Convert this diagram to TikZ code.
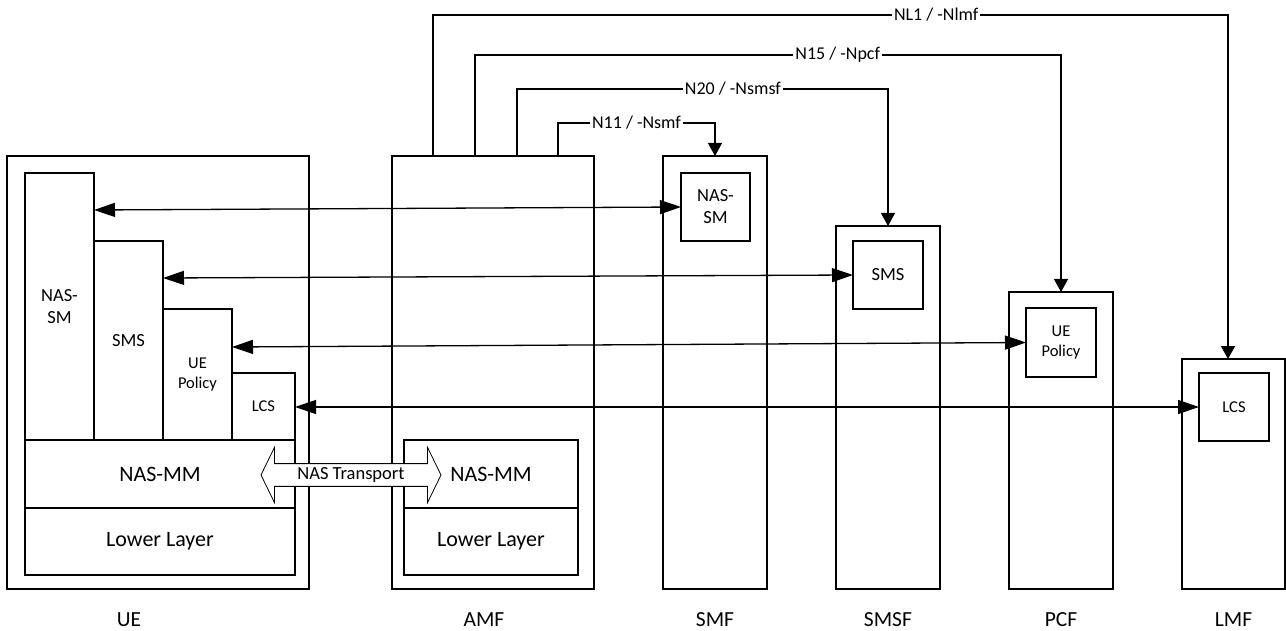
\documentclass[tikz,border=0pt]{standalone}
\usepackage{fontspec}
\setmainfont{Carlito}
\usetikzlibrary{arrows.meta,shapes.arrows,calc}
\begin{document}
\begin{tikzpicture}[x=1pt,y=-1pt,
 box/.style={draw, line width=1.3pt, inner sep=0pt, outer sep=0pt, anchor=north west, align=center},
 fbig/.style={font=\fontsize{22}{26}\selectfont},
 fmid/.style={font=\fontsize{18.5}{22}\selectfont},
 fsml/.style={font=\fontsize{16.5}{20}\selectfont},
 biarrow/.style={line width=1.3pt, {Triangle[length=21pt,width=14pt]}-{Triangle[length=21pt,width=14pt]}},
 conn/.style={line width=1.3pt, -{Triangle[length=13pt,width=14pt]}},
 lbl/.style={fill=white, inner sep=2pt, font=\fontsize{18}{21}\selectfont},
 ttl/.style={font=\fontsize{21.5}{25}\selectfont}
]
\useasboundingbox (0,0) rectangle (1286,631);

% UE
\node[box, minimum width=302pt, minimum height=433pt] (ue) at (7,156) {};
\node[box, fmid, minimum width=69pt, minimum height=267pt] (ueNassm) at (25,173) {NAS-\\SM};
\node[box, fmid, minimum width=69pt, minimum height=199pt] (ueSms) at (94,241) {SMS};
\node[box, fsml, minimum width=69pt, minimum height=131pt] (uePol) at (163,309) {UE\\Policy};
\node[box, fsml, minimum width=63pt, minimum height=67pt] (ueLcs) at (232,373) {LCS};
\node[box, fbig, minimum width=270pt, minimum height=68pt] (ueMm) at (25,440) {NAS-MM};
\node[box, fbig, minimum width=270pt, minimum height=67pt] (ueLow) at (25,508) {Lower Layer};

% AMF
\node[box, minimum width=202pt, minimum height=433pt] (amf) at (392,156) {};
\node[box, fbig, minimum width=174pt, minimum height=68pt] (amfMm) at (404,440) {NAS-MM};
\node[box, fbig, minimum width=174pt, minimum height=67pt] (amfLow) at (404,508) {Lower Layer};

% SMF
\node[box, minimum width=104pt, minimum height=433pt] (smf) at (663,156) {};
\node[box, fmid, minimum width=69pt, minimum height=68pt] (smfNassm) at (681,173) {NAS-\\SM};

% SMSF
\node[box, minimum width=104pt, minimum height=363pt] (smsf) at (836,226) {};
\node[box, fmid, minimum width=70pt, minimum height=68pt] (smsfSms) at (853,241) {SMS};

% PCF
\node[box, minimum width=104pt, minimum height=297pt] (pcf) at (1009,292) {};
\node[box, fsml, minimum width=70pt, minimum height=69pt] (pcfPol) at (1026,308) {UE\\Policy};

% LMF
\node[box, minimum width=103pt, minimum height=230pt] (lmf) at (1182,359) {};
\node[box, fsml, minimum width=70pt, minimum height=68pt] (lmfLcs) at (1199,373) {LCS};

% titles
\node[ttl] (tUe) at (129,620) {UE};
\node[ttl] (tAmf) at (484,620) {AMF};
\node[ttl] (tSmf) at (smf.south |- 0,620) {SMF};
\node[ttl] (tSmsf) at (smsf.south |- 0,620) {SMSF};
\node[ttl] (tPcf) at (pcf.south |- 0,620) {PCF};
\node[ttl] (tLmf) at (lmf.south |- 0,620) {LMF};

% peer arrows
\draw[biarrow] (ueNassm.east |- 0,210) -- (smfNassm.west);
\draw[biarrow] (ueSms.east |- 0,278) -- (smsfSms.west);
\draw[biarrow] (uePol.east |- 0,347) -- (pcfPol.west);
\draw[biarrow] (ueLcs.east |- 0,407) -- (lmfLcs.west);

% service interfaces
\coordinate (a11) at ($(amf.north west)+(166,0)$);
\coordinate (a20) at ($(amf.north west)+(125,0)$);
\coordinate (a15) at ($(amf.north west)+(83,0)$);
\coordinate (aL1) at ($(amf.north west)+(41,0)$);
\coordinate (lmfIn) at ($(lmf.north west)+(46,0)$);
\draw[conn] (a11) -- (a11 |- 0,123) -- node[lbl]{N11 / -Nsmf} (smf.north |- 0,123) -- (smf.north);
\draw[conn] (a20) -- (a20 |- 0,89) -- node[lbl, pos=0.582]{N20 / -Nsmsf} (smsf.north |- 0,89) -- (smsf.north);
\draw[conn] (a15) -- (a15 |- 0,55) -- node[lbl, pos=0.619]{N15 / -Npcf} (pcf.north |- 0,55) -- (pcf.north);
\draw[conn] (aL1) -- (aL1 |- 0,15) -- node[lbl, pos=0.633]{NL1 / -Nlmf} (lmfIn |- 0,15) -- (lmfIn);

% NAS transport
\node[double arrow, draw, fill=white, line width=0.8pt, double arrow head extend=14pt,
      double arrow tip angle=128, minimum height=180pt, minimum width=55pt, inner sep=2pt,
      font=\fontsize{18.5}{20}\selectfont] (nasT) at (351,475) {NAS Transport};
\end{tikzpicture}
\end{document}
